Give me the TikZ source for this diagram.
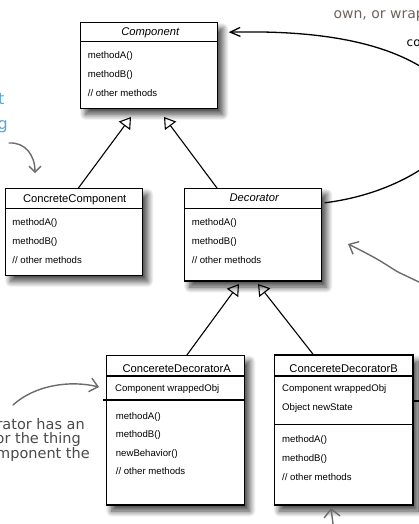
\documentclass[tikz,border=0pt]{standalone}
\usepackage{fontspec}
\setmainfont{Liberation Sans}
\newfontfamily\handfont{DejaVu Sans}
\usetikzlibrary{arrows.meta,shadows.blur,calc}
\definecolor{handgray}{HTML}{6B6B6B}
\definecolor{handbrown}{HTML}{6E645C}
\definecolor{handblue}{HTML}{5EA5D0}
\definecolor{handdark}{HTML}{4A4A4A}
\tikzset{
  box/.style={draw=black, line width=1.3pt, fill=white, inner sep=0pt, outer sep=0pt, anchor=north west,
    blur shadow={shadow xshift=5pt, shadow yshift=-6pt, shadow blur radius=6pt, shadow blur steps=14, shadow opacity=75}},
  title/.style={font=\fontsize{11.2}{13}\selectfont, inner sep=0pt, anchor=base},
  item/.style={font=\fontsize{9.6}{11}\selectfont, inner sep=0pt, anchor=base west},
  divider/.style={line width=1.2pt},
  inh/.style={line width=1.1pt, -{Triangle[open, length=11pt, width=14pt, line width=1.1pt]}},
  assoc/.style={line width=1.3pt, -{Straight Barb[length=10pt, width=9pt, line width=1.3pt]}},
  hand/.style={draw=handgray, line width=1.4pt, line cap=round},
  handtxt/.style={inner sep=0pt, font=\handfont\fontsize{14.5}{17}\selectfont}
}
\begin{document}
\begin{tikzpicture}[x=1pt,y=-1pt]
\useasboundingbox (0,0) rectangle (419,524);
\clip (0,0) rectangle (419,524);

% ---------- boxes ----------
\node[box, minimum width=137pt, minimum height=85.6pt] (comp) at (80.7,22.7) {};
\node[box, minimum width=137pt, minimum height=87pt] (cc) at (5.7,188.3) {};
\node[box, minimum width=137pt, minimum height=92.7pt] (dec) at (184.7,188.3) {};
\node[box, minimum width=138pt, minimum height=149.7pt] (cda) at (106.7,355.3) {};
\node[box, minimum width=138.7pt, minimum height=150pt] (cdb) at (274.3,355) {};

% Component
\node[title, font=\fontsize{11.2}{13}\selectfont\itshape] (compT) at ($(comp.north)+(1,13)$) {Component};
\draw[divider] ($(comp.north west)+(0,19)$) -- ($(comp.north east)+(0,19)$);
\node[item] (compA) at ($(comp.north west)+(7,35.8)$) {methodA()};
\node[item] (compB) at ($(comp.north west)+(7,54.6)$) {methodB()};
\node[item] (compC) at ($(comp.north west)+(7,73.6)$) {// other methods};

% ConcreteComponent
\node[title] (ccT) at ($(cc.north)+(0.5,14.4)$) {ConcreteComponent};
\draw[divider] ($(cc.north west)+(0,20)$) -- ($(cc.north east)+(0,20)$);
\node[item] (ccA) at ($(cc.north west)+(6.6,37.2)$) {methodA()};
\node[item] (ccB) at ($(cc.north west)+(6.6,56)$) {methodB()};
\node[item] (ccC) at ($(cc.north west)+(6.6,75)$) {// other methods};

% Decorator
\node[title, font=\fontsize{11.2}{13}\selectfont\itshape] (decT) at ($(dec.north)+(1,13.6)$) {Decorator};
\draw[divider] ($(dec.north west)+(0,20)$) -- ($(dec.north east)+(0,20)$);
\node[item] (decA) at ($(dec.north west)+(7,37.2)$) {methodA()};
\node[item] (decB) at ($(dec.north west)+(7,56)$) {methodB()};
\node[item] (decC) at ($(dec.north west)+(7,75)$) {// other methods};

% ConcereteDecoratorA
\node[title] (cdaT) at ($(cda.north)+(1,17.2)$) {ConcereteDecoratorA};
\draw[divider] ($(cda.north west)+(0,20.7)$) -- ($(cda.north east)+(0,20.7)$);
\node[item] (cdaW) at ($(cda.north west)+(8.3,35.8)$) {Component wrappedObj};
\draw[divider] ($(cda.north west)+(-4,44.7)$) -- ($(cda.north east)+(0,44.7)$);
\node[item] (cdaA) at ($(cda.north west)+(9,63.7)$) {methodA()};
\node[item] (cdaB) at ($(cda.north west)+(9,82.3)$) {methodB()};
\node[item] (cdaN) at ($(cda.north west)+(9,101)$) {newBehavior()};
\node[item] (cdaC) at ($(cda.north west)+(9,119.4)$) {// other methods};

% ConcereteDecoratorB
\node[title] (cdbT) at ($(cdb.north)+(0,17.8)$) {ConcereteDecoratorB};
\draw[divider] ($(cdb.north west)+(0,21)$) -- ($(cdb.north east)+(0,21)$);
\node[item] (cdbW) at ($(cdb.north west)+(7.7,36.6)$) {Component wrappedObj};
\node[item] (cdbS) at ($(cdb.north west)+(7.7,55.8)$) {Object newState};
\draw[divider] ($(cdb.north west)+(0,69.3)$) -- ($(cdb.north east)+(0,69.3)$);
\node[item] (cdbA) at ($(cdb.north west)+(7.7,87.6)$) {methodA()};
\node[item] (cdbB) at ($(cdb.north west)+(7.7,106.6)$) {methodB()};
\node[item] (cdbC) at ($(cdb.north west)+(7.7,125.6)$) {// other methods};
\draw[line width=1.2pt] ($(cdb.north east)+(0,46)$) -- ($(cdb.north east)+(12,46)$);

% ---------- inheritance connectors ----------
\coordinate (t1) at (131,117);
\coordinate (t2) at (164,117);
\coordinate (t3) at (239,284);
\coordinate (t4) at (258,284);
\draw[inh] ([xshift=4pt]cc.north) -- (t1);
\draw[inh] ([xshift=-36pt]dec.north) -- (t2);
\draw[inh] ([xshift=11pt]cda.north) -- (t3);
\draw[inh] ([xshift=-30pt]cdb.north) -- (t4);

% ---------- wrapping association ----------
\draw[assoc] ($(dec.north east)+(3,14.5)$) .. controls (380,196) and (440,170) .. (470,120)
  .. controls (482,100) and (470,109) .. (445,85)
  .. controls (400,42) and (320,30) .. ($(comp.north east)+(11,9.5)$);

% ---------- hand-drawn notes ----------
\node[handtxt, text=handbrown, anchor=base west, font=\handfont\fontsize{14}{16}\selectfont] (n1) at (333.3,18.5) {own, or wrap};
\node[inner sep=0pt, anchor=base west, font=\handfont\fontsize{12}{14}\selectfont] (n2) at (406.5,46.5) {co};
\node[handtxt, text=handblue, anchor=base east, font=\handfont\fontsize{16}{18}\selectfont] (n3) at (4.5,105) {t};
\node[handtxt, text=handblue, anchor=base east, font=\handfont\fontsize{16}{18}\selectfont] (n4) at (8,129) {g};
\node[handtxt, text=handdark, anchor=base east] (n5) at (85,429.3) {rator has an};
\node[handtxt, text=handdark, anchor=base east] (n6) at (81,443.8) {or the thing};
\node[handtxt, text=handdark, anchor=base east] (n7) at (90,458.5) {omponent the};

\draw[hand, -{Straight Barb[length=6pt, width=12pt, line width=1.4pt]}] (9,143) .. controls (25,142) and (35,155) .. (35,173);
\draw[hand, -{Straight Barb[length=8pt, width=14pt, line width=1.4pt]}] (419,282) -- (400,273) .. controls (390,268) and (385,262) .. (348,244);
\draw[hand, -{Straight Barb[length=8pt, width=14pt, line width=1.4pt]}] (13,405) .. controls (35,385) and (70,380) .. (99,387);
\draw[hand, -{Straight Barb[length=8pt, width=16pt, line width=1.4pt]}] (333,524) -- (331,508);
\end{tikzpicture}
\end{document}
